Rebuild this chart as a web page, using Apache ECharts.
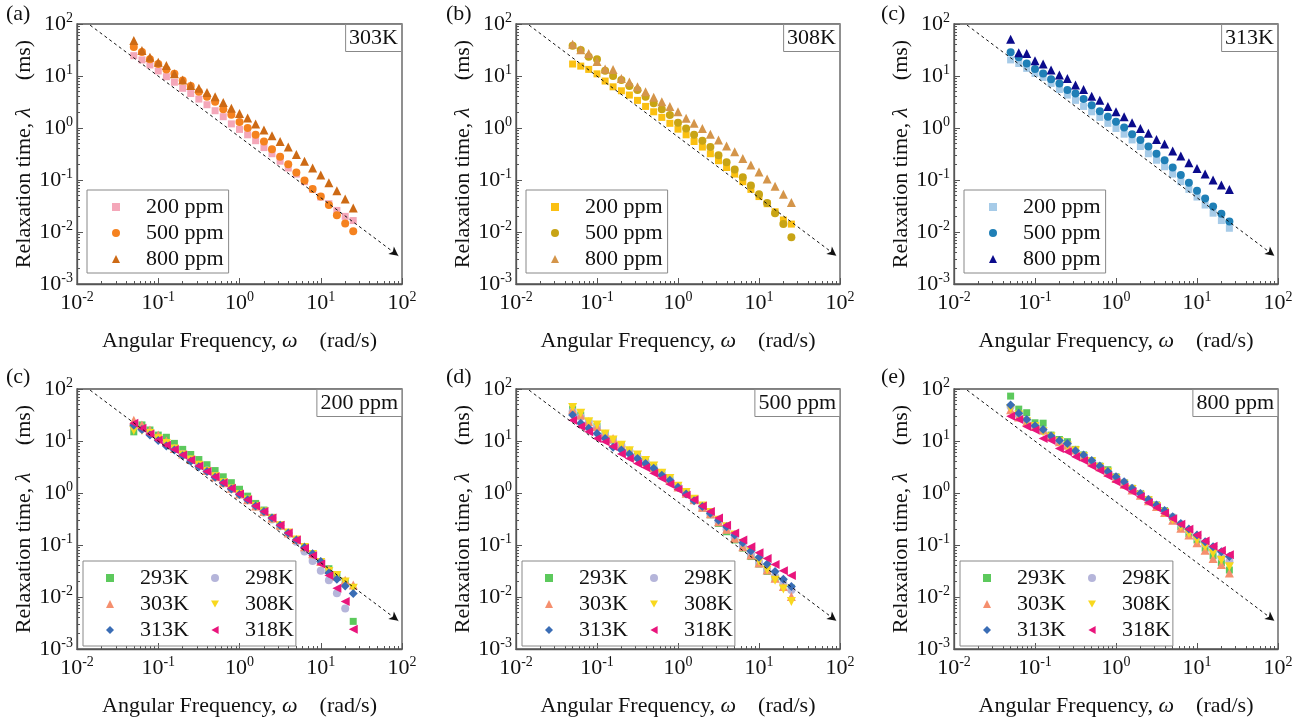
<!DOCTYPE html>
<html><head><meta charset="utf-8">
<script src="https://cdn.jsdelivr.net/npm/echarts@6/dist/echarts.min.js"></script>
<style>html,body{margin:0;padding:0;background:#fff}#c{width:1316px;height:726px}</style>
</head><body><div id="c"></div><script>
// ---------- data ----------
const freq = [0.05, 0.063, 0.079, 0.1, 0.126, 0.158, 0.2, 0.251, 0.316, 0.398, 0.501, 0.631, 0.794, 1.0, 1.26, 1.58, 2.0, 2.51, 3.16, 3.98, 5.01, 6.31, 7.94, 10.0, 12.6, 15.8, 20.0, 25.1];

// (a) 303K
const a200 = [24.6,20.4,16.3,12.5,9.7,7.6,5.8,4.6,3.6,2.8,2.15,1.65,1.2,0.94,0.74,0.57,0.42,0.32,0.23,0.17,0.13,0.093,0.066,0.047,0.035,0.026,0.020,0.0166];
const a500 = [36,29,21,17,13.4,11,8.2,6.4,5.0,4.0,3.2,2.3,1.8,1.3,1.0,0.74,0.55,0.39,0.28,0.20,0.14,0.098,0.067,0.048,0.033,0.021,0.0145,0.0103];
const a800 = [48,31,23,18.3,16,11,8.4,6.6,5.8,4.8,4.0,3.1,2.4,1.9,1.55,1.2,0.92,0.71,0.55,0.43,0.31,0.23,0.17,0.125,0.089,0.062,0.043,0.029];
// (b) 308K
const b200 = [17,15.5,13.4,11,8.0,6.2,5.2,4.3,3.4,2.6,2.05,1.6,1.23,0.95,0.74,0.55,0.43,0.32,0.235,0.174,0.13,0.093,0.066,0.048,0.035,0.0245,0.017,0.0142];
const b500 = [38,31.6,23.5,21,12.6,10,8.4,6.4,5.4,4.0,3.0,2.3,1.78,1.26,0.98,0.74,0.57,0.43,0.30,0.22,0.16,0.113,0.078,0.053,0.036,0.023,0.0142,0.0079];
const b800 = [41,32,27,19,13.6,13.4,9.0,7.7,6.2,5.0,3.9,3.2,2.6,2.05,1.54,1.23,0.98,0.76,0.59,0.45,0.35,0.26,0.195,0.142,0.104,0.076,0.053,0.037];
// (c) 313K
const c200 = [20.4,17.4,14,11.2,9.4,7.2,5.5,4.3,3.4,2.6,2.05,1.6,1.23,0.98,0.76,0.59,0.44,0.32,0.24,0.18,0.13,0.093,0.066,0.047,0.033,0.023,0.0166,0.0118];
const c500 = [28.6,23,17.4,13.6,11.2,8.7,7.2,5.4,4.6,3.6,2.75,2.1,1.65,1.32,1.02,0.76,0.59,0.44,0.32,0.24,0.174,0.125,0.089,0.062,0.044,0.031,0.0224,0.0159];
const c800 = [51,28,27,19.6,17,13,10.5,9.0,6.7,5.5,4.1,3.4,2.6,2.05,1.65,1.26,0.98,0.79,0.60,0.49,0.36,0.29,0.214,0.166,0.13,0.10,0.080,0.066];
// 200 ppm
const d293 = [15,20.4,16.3,13,11.8,9.0,6.9,5.5,4.4,3.5,2.7,2.05,1.58,1.18,0.87,0.63,0.47,0.34,0.24,0.17,0.125,0.091,0.065,0.048,0.035,0.026,0.0195,0.0034];
const d298 = [19,17,14,11,8.8,7.2,5.6,4.4,3.4,2.7,2.1,1.6,1.22,0.95,0.73,0.55,0.42,0.31,0.23,0.165,0.115,0.075,0.049,0.032,0.021,0.0118,0.006,null];
const d303 = [25,20.4,16.3,13,10,7.2,5.6,4.4,3.5,2.7,2.05,1.58,1.23,0.96,0.74,0.56,0.44,0.33,0.24,0.17,0.128,0.093,0.068,0.048,0.034,0.025,0.021,0.017];
const d308 = [16,16,14,11,9,7,5.4,4.3,3.4,2.6,2.05,1.58,1.2,0.94,0.73,0.55,0.43,0.32,0.235,0.17,0.125,0.09,0.066,0.046,0.031,0.026,0.0195,0.0147];
const d313 = [20,16.7,13,10.2,8.0,6.7,5.2,4.1,3.2,2.6,2.0,1.55,1.2,0.94,0.74,0.56,0.44,0.33,0.24,0.17,0.125,0.091,0.068,0.048,0.029,0.022,0.0163,0.0117];
const d318 = [21.9,17.5,13.6,10.4,8.3,6.9,5.4,4.3,3.3,2.6,2.05,1.58,1.23,0.96,0.74,0.56,0.44,0.33,0.24,0.17,0.125,0.087,0.062,0.043,0.026,0.0148,0.0082,0.0024];
// 500 ppm
const e293 = [41,31.6,23.5,19,13.6,10.4,8.3,6.5,5.1,4.0,3.1,2.4,1.8,1.3,0.99,0.74,0.51,0.38,0.26,0.18,0.125,0.087,0.06,0.043,0.031,0.023,0.018,0.0148];
const e298 = [37,29,23.5,18,13,10.5,8.2,6.4,5.0,3.9,3.0,2.3,1.75,1.3,0.98,0.74,0.52,0.39,0.28,0.2,0.14,0.095,0.066,0.047,0.033,0.025,0.018,0.0137];
const e303 = [40,31.6,23.5,19,13.6,11.2,8.3,6.5,5.1,4.0,3.1,2.4,1.8,1.3,0.99,0.74,0.53,0.40,0.28,0.2,0.135,0.093,0.064,0.045,0.033,0.023,0.016,0.0102];
const e308 = [44,34,23.5,20.4,13.6,10.4,8.3,6.5,5.4,4.2,3.3,2.4,1.9,1.35,1.02,0.76,0.56,0.42,0.30,0.225,0.155,0.107,0.074,0.048,0.033,0.021,0.0142,0.0082];
const e313 = [31.6,22,17.5,14,11.2,7.6,6.7,5.6,4.6,3.7,3.0,2.2,1.75,1.29,0.96,0.71,0.55,0.41,0.30,0.225,0.155,0.11,0.077,0.058,0.043,0.031,0.022,0.016];
const e318 = [25,19,15,11.2,9.7,7.8,5.6,4.6,3.7,3.1,2.4,1.9,1.48,1.17,0.91,0.74,0.56,0.44,0.33,0.24,0.17,0.125,0.093,0.071,0.055,0.042,0.032,0.026];
// 800 ppm
const f293 = [73,41,35,22.4,22,13,10.7,9.7,6.9,5.4,4.2,3.3,2.8,2.05,1.58,1.23,0.98,0.75,0.59,0.46,0.34,0.225,0.166,0.125,0.087,0.062,0.046,0.033];
const f298 = [46,31.6,25,19,15.5,12,9.8,8.5,6.5,5.2,4.1,3.2,2.6,2.0,1.6,1.22,0.97,0.75,0.58,0.45,0.34,0.25,0.19,0.14,0.105,0.08,0.058,0.048];
const f303 = [40,29,23.5,19,16.3,12.5,9.7,8.3,6.7,5.0,4.0,3.2,2.5,1.9,1.48,1.14,0.91,0.71,0.55,0.42,0.30,0.21,0.155,0.11,0.079,0.055,0.042,0.029];
const f308 = [42,31.6,23.5,19,15,12,9.7,8.0,6.5,5.0,4.0,3.1,2.5,1.9,1.48,1.17,0.91,0.71,0.55,0.42,0.31,0.225,0.166,0.125,0.093,0.069,0.051,0.038];
const f313 = [49,34,26,19.6,16.7,12.5,10.2,9.0,6.5,5.4,4.2,3.3,2.6,2.05,1.65,1.23,0.98,0.75,0.59,0.46,0.35,0.26,0.204,0.155,0.115,0.093,0.074,0.06];
const f318 = [30,26,19,16.3,11.2,10.2,7.2,6.2,5.0,4.2,3.3,2.7,2.13,1.65,1.3,1.06,0.85,0.65,0.52,0.41,0.32,0.25,0.2,0.155,0.12,0.095,0.078,0.065];

// guide line (dashed arrow) end points
const guideStart = [0.0145, 95];
const guideEnd = [90, 0.0035];

const concNames = ['200 ppm', '500 ppm', '800 ppm'];
const tempNames = ['293K', '298K', '303K', '308K', '313K', '318K'];
const panelLetters = ['(a)', '(b)', '(c)', '(c)', '(d)', '(e)'];
const panelLabels = ['303K', '308K', '313K', '200 ppm', '500 ppm', '800 ppm'];
const minorX = [];
for (let d = -2; d < 2; d++) for (let k = 2; k <= 9; k++) minorX.push(Math.log10(k * Math.pow(10, d)));
const minorY = [];
for (let d = -3; d < 2; d++) for (let k = 2; k <= 9; k++) minorY.push(Math.log10(k * Math.pow(10, d)));

// ---------- styles ----------
const FONT = '"Liberation Serif","Times New Roman",serif';
const TXT = '#111';
const AX = '#555';
const grids = [
  {left: 77, top: 24, width: 325, height: 260},
  {left: 516, top: 24, width: 324, height: 260},
  {left: 954, top: 24, width: 324, height: 260},
  {left: 77, top: 389, width: 325, height: 260},
  {left: 516, top: 389, width: 324, height: 260},
  {left: 954, top: 389, width: 324, height: 260}
];
const letterPos = [[6, 3], [446, 3], [881, 3], [6, 366], [446, 366], [881, 366]];
const keys = ['a', 'b', 'c', 'd', 'e', 'f'];
const panelData = [
  [a200, a500, a800], [b200, b500, b800], [c200, c500, c800],
  [d293, d298, d303, d308, d313, d318], [e293, e298, e303, e308, e313, e318], [f293, f298, f303, f308, f313, f318]
];
const topColors = [
  ['#F4A7B9', '#F5821F', '#CD6A15'],
  ['#FBC012', '#C8A415', '#D4954A'],
  ['#A6CBE8', '#1F7FB6', '#0B0B8C']
];
const DOWN_TRI = 'path://M0,0L10,0L5,9Z';
const LEFT_TRI = 'path://M9,0L9,10L0,5Z';
// [symbol, size, rotate, legend icon]
const topSym = [['rect', 7, 0, 'rect'], ['circle', 8, 0, 'circle'], ['triangle', 9, 0, 'triangle']];
const botColors = ['#5CC95C', '#B5B5DA', '#F58F6E', '#F8D81E', '#3A6DB5', '#E9157C'];
const botSym = [['rect', 7, 0, 'rect'], ['circle', 8, 0, 'circle'], ['triangle', 9, 0, 'triangle'], ['triangle', 9, 180, DOWN_TRI], ['diamond', 9, 0, 'diamond'], ['triangle', 9, 90, LEFT_TRI]];

const labelRich = {
  b: {fontSize: 22, fontFamily: FONT, color: TXT, lineHeight: 26},
  s: {fontSize: 14, fontFamily: FONT, color: TXT, lineHeight: 14, verticalAlign: 'top'}
};
const nameRich = {
  t: {fontSize: 22, fontFamily: FONT, color: TXT},
  i: {fontSize: 22, fontFamily: FONT, color: TXT, fontStyle: 'italic'}
};
function supLabel(v) {
  const e = Math.round(Math.log10(v));
  return '{b|10}{s|' + e + '}';
}
const legendText = {fontFamily: FONT, fontSize: 22, lineHeight: 26, color: TXT, padding: [0, 0, 0, 21]};

const option = {animation: false, backgroundColor: '#fff', grid: [], xAxis: [], yAxis: [], series: [], legend: [], title: []};

grids.forEach((g, k) => {
  option.grid.push(Object.assign({show: true, borderColor: AX, borderWidth: 1.3, backgroundColor: 'transparent', containLabel: false}, g));
  option.xAxis.push({
    type: 'log', logBase: 10, gridIndex: k, min: 0.01, max: 100, position: 'bottom',
    axisLine: {show: true, onZero: false, lineStyle: {color: AX, width: 1.3}},
    axisTick: {show: true, inside: true, length: 6, lineStyle: {color: AX, width: 1}},
    axisLabel: {formatter: supLabel, rich: labelRich, margin: 6},
    splitLine: {show: false},
    name: '{t|Angular Frequency, }{i|ω}{t|    (rad/s)}', nameLocation: 'middle', nameGap: 46,
    nameTextStyle: {rich: nameRich}
  });
  option.xAxis.push({
    type: 'value', gridIndex: k, min: -2, max: 2, position: 'bottom',
    axisLine: {show: false, onZero: false},
    axisTick: {show: true, inside: true, length: 3, customValues: minorX, lineStyle: {color: AX, width: 1}},
    axisLabel: {show: false}, splitLine: {show: false}
  });
  option.yAxis.push({
    type: 'log', logBase: 10, gridIndex: k, min: 0.001, max: 100, position: 'left',
    axisLine: {show: true, onZero: false, lineStyle: {color: AX, width: 1.3}},
    axisTick: {show: true, inside: true, length: 6, lineStyle: {color: AX, width: 1}},
    axisLabel: {formatter: supLabel, rich: labelRich, margin: 4},
    splitLine: {show: false},
    name: '{t|Relaxation time, }{i|λ}{t|     (ms)}', nameLocation: 'middle', nameGap: 42, nameRotate: 90,
    nameTextStyle: {rich: nameRich}
  });
  option.yAxis.push({
    type: 'value', gridIndex: k, min: -3, max: 2, position: 'left',
    axisLine: {show: false, onZero: false},
    axisTick: {show: true, inside: true, length: 3, customValues: minorY, lineStyle: {color: AX, width: 1}},
    axisLabel: {show: false}, splitLine: {show: false}
  });

  // guide line with arrow
  option.series.push({
    type: 'line', name: 'guide' + k, xAxisIndex: 2 * k, yAxisIndex: 2 * k,
    data: [guideStart, guideEnd], symbol: 'none', silent: true,
    lineStyle: {opacity: 0},
    markLine: {
      silent: true, symbol: ['none', 'arrow'], symbolSize: [7, 9],
      lineStyle: {type: [3, 3], color: '#111', width: 1},
      label: {show: false},
      data: [[{coord: guideStart}, {coord: guideEnd}]]
    }
  });

  const isTop = k < 3;
  const names = isTop ? concNames : tempNames;
  const legendData = [];
  names.forEach((nm, j) => {
    const vals = panelData[k][j];
    const sym = isTop ? topSym[j] : botSym[j];
    const color = isTop ? topColors[k][j] : botColors[j];
    const sname = nm + '#' + keys[k];
    const pts = [];
    freq.forEach((x, i) => { if (vals[i] != null) pts.push([x, vals[i]]); });
    option.series.push({
      type: 'scatter', name: sname, xAxisIndex: 2 * k, yAxisIndex: 2 * k,
      data: pts, symbol: sym[0], symbolSize: sym[1], symbolRotate: sym[2],
      itemStyle: {color: color, opacity: 1}
    });
    legendData.push({name: sname, icon: sym[3], itemStyle: {color: color}});
  });

  const g0 = grids[k];
  const legendCommon = {
    orient: 'vertical', itemWidth: 8, itemHeight: 8, itemGap: 0, symbolRotate: 0,
    selectedMode: false, textStyle: legendText, formatter: n => n.split('#')[0]
  };
  if (isTop) {
    option.legend.push(Object.assign({}, legendCommon, {
      data: legendData, left: g0.left + 10, top: 190, padding: [4, 5, 1, 25],
      borderColor: '#888', borderWidth: 1, borderRadius: 0
    }));
  } else {
    option.legend.push(Object.assign({}, legendCommon, {
      data: [legendData[0], legendData[2], legendData[4]], left: g0.left + 6, top: 561,
      padding: [4, 107, 3, 23], borderColor: '#888', borderWidth: 1, borderRadius: 0
    }));
    option.legend.push(Object.assign({}, legendCommon, {
      data: [legendData[1], legendData[3], legendData[5]], left: g0.left + 134, top: 561,
      padding: [4, 0, 3, 0], borderWidth: 0
    }));
  }

  option.title.push({
    text: panelLetters[k], left: letterPos[k][0], top: letterPos[k][1], padding: 0,
    textStyle: {fontFamily: FONT, fontSize: 22, fontWeight: 'normal', color: TXT}
  });
  option.title.push({
    text: panelLabels[k], right: 1316 - (g0.left + g0.width), top: g0.top, padding: [3, 4, 3, 4],
    borderColor: '#888', borderWidth: 1, backgroundColor: '#fff',
    textStyle: {fontFamily: FONT, fontSize: 22, fontWeight: 'normal', color: TXT, lineHeight: 22}
  });
});

const chart = echarts.init(document.getElementById('c'), null, {renderer: 'canvas'});
chart.setOption(option);
</script></body></html>
